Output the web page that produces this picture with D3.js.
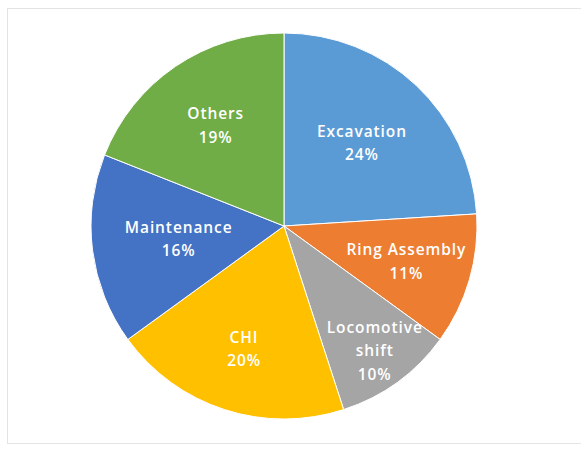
<!DOCTYPE html>
<html>
<head>
<meta charset="utf-8">
<script src="https://cdn.jsdelivr.net/npm/d3@7"></script>
<style>
  html, body { margin: 0; padding: 0; background: #ffffff; }
  svg { display: block; }
</style>
</head>
<body>
<svg id="chart" width="581" height="457"></svg>
<script>
// Share of working time by activity
const categories = ["Excavation", "Ring Assembly", "Locomotive shift", "CHI", "Maintenance", "Others"];
const shares = [24, 11, 10, 20, 16, 19];
const labelLines = [["Excavation"], ["Ring Assembly"], ["Locomotive", "shift"], ["CHI"], ["Maintenance"], ["Others"]];
const colors = ["#5b9bd5", "#ed7d31", "#a5a5a5", "#ffc000", "#4472c4", "#70ad47"];

const width = 581, height = 457;
const cx = 284, cy = 226, radius = 193;

// how far out along each slice's bisector its label sits (fraction of radius)
const labelRadiusFactor = { "Excavation": 0.59, "Ring Assembly": 0.66, "Locomotive shift": 0.80,
                            "CHI": 0.67, "Maintenance": 0.55, "Others": 0.63 };

const svg = d3.select("#chart");

// chart area frame
svg.append("rect")
  .attr("x", 7.5).attr("y", 8.5)
  .attr("width", 600).attr("height", 435)
  .attr("fill", "none")
  .attr("stroke", "#e4e4e4")
  .attr("stroke-width", 1);

const data = categories.map((c, i) => ({ name: c, value: shares[i], lines: labelLines[i], color: colors[i] }));

const pie = d3.pie().value(d => d.value).sort(null);
const arcs = pie(data);
const arc = d3.arc().innerRadius(0).outerRadius(radius);

const g = svg.append("g").attr("transform", `translate(${cx},${cy})`);

g.selectAll("path.slice")
  .data(arcs)
  .join("path")
  .attr("class", "slice")
  .attr("d", arc)
  .attr("fill", d => d.data.color)
  .attr("stroke", "#ffffff")
  .attr("stroke-width", 1);

const lineH = 23.5;
g.selectAll("text.label")
  .data(arcs)
  .join("text")
  .attr("class", "label")
  .attr("text-anchor", "middle")
  .attr("font-family", "'Open Sans', 'Noto Sans', sans-serif")
  .attr("font-size", 15.5)
  .attr("font-weight", 600)
  .attr("letter-spacing", 0.9)
  .attr("fill", "#ffffff")
  .each(function(d) {
    const f = labelRadiusFactor[d.data.name];
    const [x, y] = d3.arc().innerRadius(radius * f * 2).outerRadius(0).centroid(d);
    const lines = d.data.lines.concat([d.data.value + "%"]);
    const y0 = y - (lines.length - 1) * lineH / 2;
    const t = d3.select(this);
    lines.forEach((s, i) => {
      t.append("tspan")
        .attr("x", x)
        .attr("y", y0 + i * lineH)
        .attr("dy", "0.35em")
        .text(s);
    });
  });
</script>
</body>
</html>
